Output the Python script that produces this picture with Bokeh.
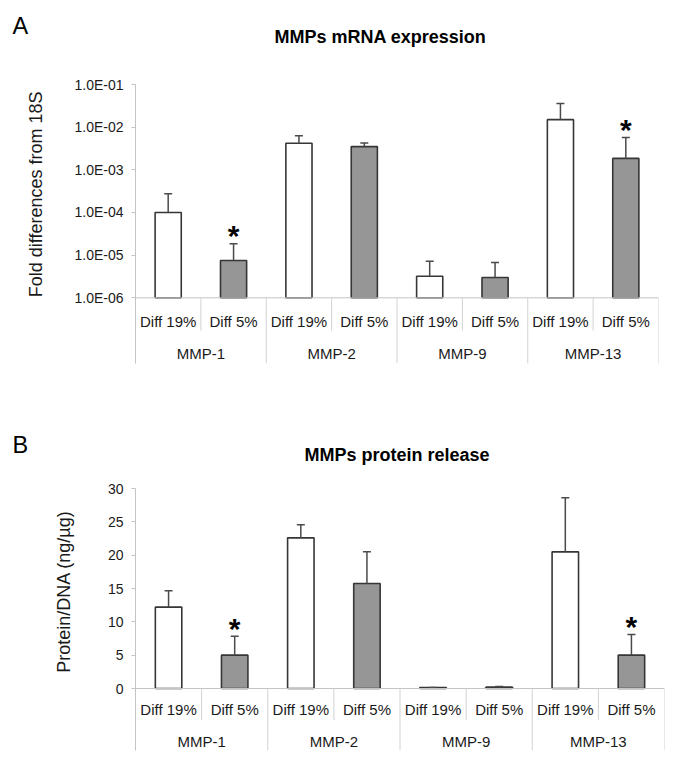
import math
from bokeh.plotting import figure
from bokeh.models import (FactorRange, Range1d, FixedTicker, CustomJSTickFormatter,
                          ColumnDataSource, LinearScale)
from bokeh.layouts import column, row
from bokeh.embed import file_html
from bokeh.resources import INLINE
from bokeh.core.properties import value

FONT = "Liberation Sans"

# ---------------- data ----------------
groups = ["MMP-1", "MMP-2", "MMP-9", "MMP-13"]
conditions = ["Diff 19%", "Diff 5%"]

mrna_mean = [1.0e-4, 7.5e-6, 4.2e-3, 3.5e-3, 3.2e-6, 3.0e-6, 1.5e-2, 1.85e-3]
mrna_err_top = [2.75e-4, 1.85e-5, 6.3e-3, 4.25e-3, 7.2e-6, 6.7e-6, 3.6e-2, 5.7e-3]
mrna_sig = [False, True, False, False, False, False, False, True]
mrna_ticks = [1e-6, 1e-5, 1e-4, 1e-3, 1e-2, 1e-1]

protein_mean = [12.2, 5.0, 22.6, 15.75, 0.15, 0.2, 20.5, 5.0]
protein_err_top = [14.65, 7.85, 24.55, 20.5, 0.15, 0.3, 28.6, 8.1]
protein_sig = [False, True, False, False, False, False, False, True]
protein_ticks = [0, 5, 10, 15, 20, 25, 30]

titles = ["MMPs mRNA expression", "MMPs protein release"]
letters = ["A", "B"]
ylabels = ["Fold differences from 18S", "Protein/DNA (ng/\u00b5g)"]

factors = [(g, c) for g in groups for c in conditions]
cond_of = [c for g in groups for c in conditions]
fills = ["#ffffff" if c == conditions[0] else "#969696" for c in cond_of]

AXIS_GRAY = "#c4c4c4"
SEP_GRAY = "#d2d2d2"
BAR_LINE = "#363636"
ERR_LINE = "#4a4a4a"
TXT = "#1a1a1a"
W = 685


def blank(width, height, x0, x1, y_top, y_bottom):
    """A figure whose frame is the whole figure, with page-pixel data coords."""
    f = figure(width=width, height=height,
               x_range=Range1d(x0, x1), y_range=Range1d(start=y_bottom, end=y_top),
               x_axis_location=None, y_axis_location=None,
               output_backend="svg", toolbar_location=None, tools="",
               min_border=0)
    f.outline_line_color = None
    f.xgrid.visible = False
    f.ygrid.visible = False
    f.background_fill_color = "white"
    f.border_fill_color = "white"
    return f


def header(letter, title, y_top, y_bottom, letter_y, title_x, title_y):
    h = blank(W, y_bottom - y_top, 0, W, y_top, y_bottom)
    h.text(x=[12], y=[letter_y], text=[letter], text_align="left",
           text_baseline="middle", text_font=value(FONT),
           text_font_size="23.5px", text_color="#000000")
    h.text(x=[title_x], y=[title_y], text=[title], text_align="center",
           text_baseline="middle", text_font=value(FONT),
           text_font_style="bold", text_font_size="18px", text_color="#000000")
    return h


def side(ylabel, width, y_top, y_bottom, lab_x, lab_y):
    s = blank(width, y_bottom - y_top, 0, width, y_top, y_bottom)
    s.text(x=[lab_x], y=[lab_y], text=[ylabel], angle=math.pi / 2,
           text_align="center", text_baseline="middle",
           text_font=value(FONT), text_font_size="18px", text_color=TXT)
    return s


def main(kind, means, tops, sig, ticks, width, height, b_left, b_right, b_top,
         frame_h, axis_off, sub_y, grp_y, sub_depth):
    if kind == "log":
        decade_px = axis_off / (math.log10(ticks[-1]) - math.log10(ticks[0]))
        lo = 10 ** (math.log10(ticks[-1]) - frame_h / decade_px)
        y_range = Range1d(start=lo, end=ticks[-1])
    else:
        px_per = axis_off / (ticks[-1] - ticks[0])
        y_range = Range1d(start=ticks[-1] - frame_h / px_per, end=ticks[-1])
    base = ticks[0]

    x_range = FactorRange(*factors, factor_padding=0, group_padding=0,
                          subgroup_padding=0, range_padding=0)
    p = figure(width=width, height=height, x_range=x_range, y_range=y_range,
               y_axis_type=kind, x_axis_location=None,
               output_backend="svg", toolbar_location=None, tools="",
               min_border_left=b_left, min_border_right=b_right,
               min_border_top=b_top, min_border_bottom=height - b_top - frame_h)
    p.outline_line_color = None
    p.xgrid.visible = False
    p.ygrid.visible = False
    p.background_fill_color = "white"
    p.border_fill_color = "white"
    # pixel-like linear range for the category axis (0 = value baseline)
    p.extra_y_ranges = {"cat": Range1d(start=-(frame_h - axis_off), end=axis_off)}
    p.extra_y_scales = {"cat": LinearScale()}

    ax = p.yaxis[0]
    ax.ticker = FixedTicker(ticks=ticks, minor_ticks=[])
    if kind == "log":
        ax.formatter = CustomJSTickFormatter(code="""
            const s = tick.toExponential(1).toUpperCase();
            return s.replace(/E([+-])(\\d)$/, (m, a, b) => 'E' + a + '0' + b);
        """)
    ax.axis_line_color = AXIS_GRAY
    ax.major_tick_line_color = AXIS_GRAY
    ax.major_tick_out = 4
    ax.major_tick_in = 0
    ax.minor_tick_out = 0
    ax.minor_tick_in = 0
    ax.major_label_standoff = 8
    ax.major_label_text_font = FONT
    ax.major_label_text_font_size = "14px"
    ax.major_label_text_color = TXT

    # bars and upper error bars
    src = ColumnDataSource(dict(x=factors, top=means, err=tops, fill=fills))
    p.vbar(x="x", top="top", bottom=base, width=0.4, source=src,
           fill_color="fill", line_color=BAR_LINE, line_width=1.6)
    p.segment(x0="x", y0="top", x1="x", y1="err", source=src,
              line_color=ERR_LINE, line_width=1.5)
    p.scatter(x="x", y="err", marker="dash", size=8, source=src,
              line_color=ERR_LINE, line_width=1.5)

    # significance stars
    sx = [f for f, s in zip(factors, sig) if s]
    sy = [t for t, s in zip(tops, sig) if s]
    p.text(x=sx, y=sy, text=["*"] * len(sx), text_align="center",
           text_baseline="middle", y_offset=-8,
           text_font=value(FONT), text_font_style="bold",
           text_font_size="30px", text_color="#000000")

    # category axis: baseline, separators, labels
    n = len(factors)
    p.segment(x0=[0], y0=[0], x1=[n], y1=[0], y_range_name="cat",
              line_color=AXIS_GRAY, line_width=1)
    k = len(conditions)
    sub_sep = [i for i in range(1, n) if i % k != 0]
    grp_sep = [i for i in range(1, n + 1) if i % k == 0]
    grp_depth = -(frame_h - axis_off)
    p.segment(x0=sub_sep, y0=[0] * len(sub_sep), x1=sub_sep,
              y1=[sub_depth] * len(sub_sep), y_range_name="cat",
              line_color=SEP_GRAY, line_width=1)
    p.segment(x0=grp_sep, y0=[0] * len(grp_sep), x1=grp_sep,
              y1=[grp_depth] * len(grp_sep), y_range_name="cat",
              line_color=SEP_GRAY, line_width=1)
    p.text(x=factors, y=[sub_y] * n, text=cond_of, y_range_name="cat",
           text_align="center", text_baseline="middle",
           text_font=value(FONT), text_font_size="15px", text_color=TXT)
    p.text(x=groups, y=[grp_y] * len(groups), text=groups, y_range_name="cat",
           text_align="center", text_baseline="middle",
           text_font=value(FONT), text_font_size="15px", text_color=TXT)
    return p


# ---------------- panel A ----------------
hA = header(letters[0], titles[0], 0, 70, letter_y=25, title_x=380, title_y=36.7)
sA = side(ylabels[0], 60, 70, 392, lab_x=35.5, lab_y=196.7)
mA = main("log", mrna_mean, mrna_err_top, mrna_sig, mrna_ticks,
          width=625, height=322, b_left=75, b_right=27, b_top=14,
          frame_h=279, axis_off=213.3, sub_y=-23.4, grp_y=-55.9,
          sub_depth=-32.7)

# ---------------- panel B ----------------
hB = header(letters[1], titles[1], 392, 470, letter_y=444.5, title_x=396.5,
            title_y=454.5)
sB = side(ylabels[1], 90, 470, 770, lab_x=63, lab_y=588)
mB = main("linear", protein_mean, protein_err_top, protein_sig, protein_ticks,
          width=595, height=300, b_left=45, b_right=21, b_top=18,
          frame_h=262, axis_off=200, sub_y=-21.2, grp_y=-53,
          sub_depth=-31.7)

layout = column(hA, row(sA, mA, spacing=0), hB, row(sB, mB, spacing=0), spacing=0)
open("out.html", "w").write(file_html(layout, INLINE))
